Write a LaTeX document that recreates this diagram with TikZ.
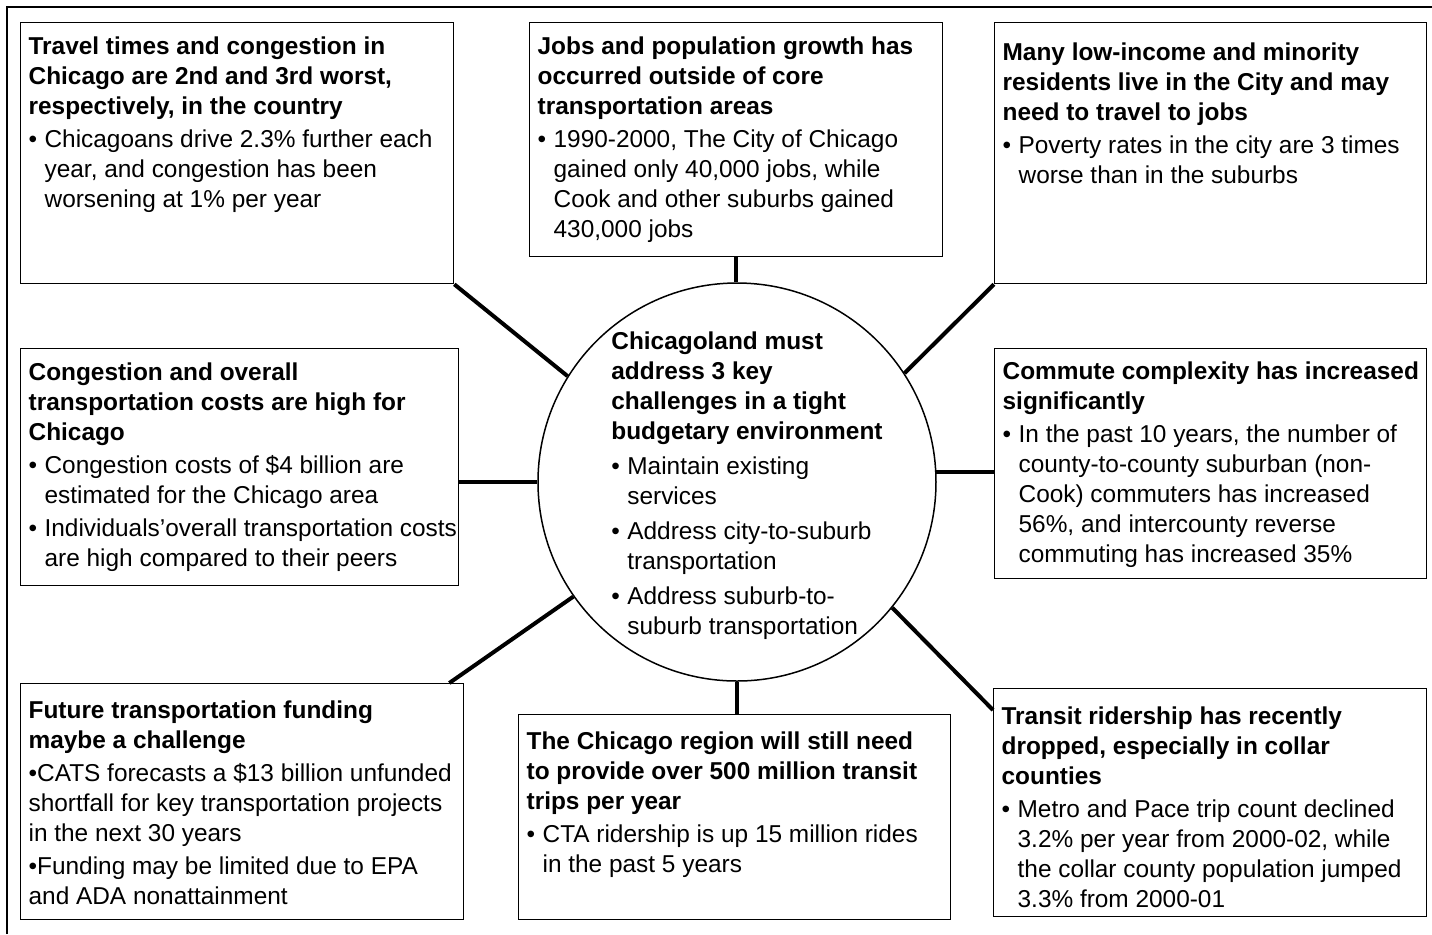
\documentclass[tikz,border=0pt]{standalone}
\usepackage{fontspec}
\setmainfont{Liberation Sans}
\usetikzlibrary{positioning}

% box body: [top gap]{width}{height}{text}
\newcommand{\panel}[4][4pt]{%
  \parbox[t][#3][t]{#2}{\raggedright\leftskip=4pt\parskip=1.5pt
    \fontsize{12.2}{15}\selectfont\vspace*{#1}\strut#4}}
\newcommand{\pitem}[1]{\par\hangindent=8pt\hangafter=1\makebox[8pt][l]{•}#1}

\tikzset{
  panel/.style={draw, line width=0.65pt, anchor=north west, inner sep=0pt},
  hub/.style={circle, draw, line width=0.75pt, minimum size=199pt, inner sep=0pt},
  link/.style={line width=2pt}
}

\begin{document}
\begin{tikzpicture}[x=0.5pt, y=-0.5pt]
\useasboundingbox (0,0) rectangle (1432,934);
\draw[line width=0.6pt] (7,934) -- (7,7) -- (1432,7);

% outer boxes
\node[panel] (congestion) at (20,22) {\panel{216.5pt}{130.5pt}{%
  \textbf{Travel times and congestion in\newline Chicago are 2nd and 3rd worst,\newline respectively, in the country}
  \pitem{Chicagoans drive 2.3\% further each\newline year, and congestion has been\newline worsening at 1\% per year}}};
\node[panel] (jobs) at (529,22) {\panel{206.5pt}{117pt}{%
  \textbf{Jobs and population growth has\newline occurred outside of core\newline transportation areas}
  \pitem{1990-2000, The City of Chicago\newline gained only 40,000 jobs, while\newline Cook and other suburbs gained\newline 430,000 jobs}}};
\node[panel] (poverty) at (994,22) {\panel[7pt]{216pt}{130.5pt}{%
  \textbf{Many low-income and minority\newline residents live in the City and may\newline need to travel to jobs}
  \pitem{Poverty rates in the city are 3 times\newline worse than in the suburbs}}};
\node[panel] (costs) at (20,348) {\panel{219pt}{118.5pt}{%
  \textbf{Congestion and overall\newline transportation costs are high for\newline Chicago}
  \pitem{Congestion costs of \$4 billion are\newline estimated for the Chicago area}
  \pitem{Individuals’overall transportation costs\newline are high compared to their peers}}};
\node[panel] (commute) at (994,348) {\panel[3.5pt]{216pt}{115pt}{%
  \textbf{Commute complexity has increased\newline significantly}
  \pitem{In the past 10 years, the number of\newline county-to-county suburban (non-\newline Cook) commuters has increased\newline 56\%, and intercounty reverse\newline commuting has increased 35\%}}};
\node[panel] (funding) at (20,683) {\panel[5.5pt]{221.5pt}{118pt}{%
  \textbf{Future transportation funding\newline maybe a challenge}
  \par•CATS forecasts a \$13 billion unfunded\newline shortfall for key transportation projects\newline in the next 30 years
  \par•Funding may be limited due to EPA\newline and ADA nonattainment}};
\node[panel] (trips) at (518,714) {\panel[5.5pt]{216pt}{102.5pt}{%
  \textbf{The Chicago region will still need\newline to provide over 500 million transit\newline trips per year}
  \pitem{CTA ridership is up 15 million rides\newline in the past 5 years}}};
\node[panel] (ridership) at (993,688) {\panel[6pt]{216.5pt}{114pt}{%
  \textbf{Transit ridership has recently\newline dropped, especially in collar\newline counties}
  \pitem{Metro and Pace trip count declined\newline 3.2\% per year from 2000-02, while\newline the collar county population jumped\newline 3.3\% from 2000-01}}};

% centre
\node[hub] (hub) at (737,482) {};
\node[anchor=north west, inner sep=0pt] (hubtext) at (611,328) {\parbox[t]{142pt}{%
  \raggedright\parskip=2.5pt\fontsize{12.2}{15}\selectfont\strut
  \textbf{Chicagoland must\newline address 3 key\newline challenges in a tight\newline budgetary environment}
  \pitem{Maintain existing\newline services}
  \pitem{Address city-to-suburb\newline transportation}
  \pitem{Address suburb-to-\newline suburb transportation}}};

% spokes
\draw[link] (congestion.south east) -- (hub.148);
\draw[link] (jobs.south) -- (jobs.south |- hub.north);
\draw[link] (poverty.south west) -- (hub.33);
\draw[link] (costs.east |- hub.west) -- (hub.west);
\draw[link] (hub.3) -- (hub.3 -| commute.west);
\draw[link] (hub.215) -- ([xshift=-7.5pt]funding.north east);
\draw[link] (hub.south) -- (hub.south |- trips.north);
\draw[link] (hub.321) -- ([yshift=-11pt]ridership.north west);
\end{tikzpicture}
\end{document}
